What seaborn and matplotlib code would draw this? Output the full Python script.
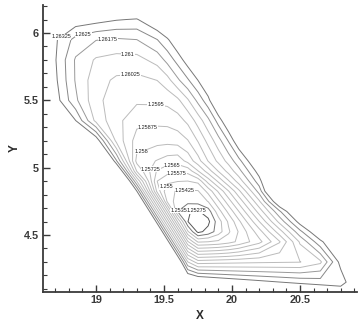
import numpy as np
import matplotlib
matplotlib.use("Agg")
import matplotlib.pyplot as plt
import seaborn as sns

# ---- data ----
# grid nodes (X, Y)
x_nodes = [18.55, 18.70, 18.85, 19.00, 19.15, 19.30, 19.45, 19.525, 19.60, 19.675, 19.75,
           19.825, 19.90, 19.975, 20.05, 20.20, 20.35, 20.50, 20.65, 20.80, 20.95]
y_nodes = [4.00, 4.15, 4.30, 4.45, 4.525, 4.60, 4.675, 4.75, 4.825, 4.90, 4.975,
           5.05, 5.20, 5.35, 5.50, 5.65, 5.80, 5.95, 6.10, 6.25]
# field value at each node, one row per y node
field = [
[1.28650,1.28650,1.28650,1.28650,1.28650,1.28650,1.27802,1.27367,1.27085,1.26970,1.26924,1.26880,1.26840,1.26804,1.26771,1.26711,1.26661,1.26617,1.26579,1.26545,1.26483],
[1.28650,1.28650,1.28650,1.28650,1.28650,1.28314,1.27609,1.27255,1.26891,1.26492,1.26457,1.26435,1.26415,1.26397,1.26381,1.26352,1.26327,1.26305,1.26287,1.26270,1.26476],
[1.28650,1.28650,1.28650,1.28650,1.28567,1.27867,1.27164,1.26811,1.26457,1.26102,1.25987,1.25993,1.25998,1.26002,1.26006,1.26013,1.26018,1.26022,1.26084,1.26356,1.26785],
[1.28650,1.28650,1.28650,1.28650,1.28122,1.27423,1.26722,1.26369,1.26016,1.25660,1.25491,1.25500,1.25515,1.25545,1.25591,1.25701,1.25868,1.26110,1.26304,1.26461,1.26749],
[1.28650,1.28650,1.28650,1.28595,1.27901,1.27203,1.26502,1.26150,1.25796,1.25437,1.25254,1.25300,1.25389,1.25488,1.25581,1.25768,1.25990,1.26228,1.26424,1.26556,1.26740],
[1.28650,1.28650,1.28650,1.28374,1.27680,1.26983,1.26283,1.25931,1.25571,1.25282,1.24983,1.25256,1.25390,1.25512,1.25632,1.25873,1.26123,1.26361,1.26563,1.26685,1.26771],
[1.28650,1.28650,1.28650,1.28220,1.27461,1.26764,1.26065,1.25713,1.25350,1.25278,1.25267,1.25313,1.25466,1.25595,1.25723,1.25980,1.26237,1.26484,1.26725,1.26827,1.26891],
[1.28650,1.28650,1.28465,1.27933,1.27242,1.26546,1.25848,1.25484,1.25383,1.25372,1.25378,1.25428,1.25560,1.25692,1.25824,1.26088,1.26428,1.26639,1.26875,1.26990,1.27039],
[1.28650,1.28625,1.28159,1.27628,1.27033,1.26329,1.25627,1.25443,1.25419,1.25417,1.25418,1.25524,1.25660,1.25795,1.25931,1.26203,1.26632,1.26886,1.26972,1.27179,1.27199],
[1.27722,1.28333,1.27868,1.27345,1.26756,1.26099,1.25575,1.25520,1.25503,1.25499,1.25520,1.25682,1.25815,1.25942,1.26057,1.26293,1.26609,1.27291,1.27165,1.27402,1.27382],
[1.27352,1.28061,1.27598,1.27080,1.26499,1.25869,1.25641,1.25603,1.25596,1.25601,1.25721,1.25838,1.25954,1.26052,1.26149,1.26363,1.26624,1.27188,1.27538,1.27478,1.27594],
[1.27192,1.27328,1.27346,1.26833,1.26259,1.25775,1.25720,1.25690,1.25679,1.25749,1.25845,1.25953,1.26044,1.26127,1.26224,1.26443,1.26661,1.26990,1.28106,1.27689,1.27841],
[1.26978,1.26757,1.26777,1.26387,1.26004,1.25842,1.25825,1.25824,1.25834,1.25871,1.25955,1.26049,1.26144,1.26256,1.26395,1.26632,1.26832,1.27018,1.27315,1.28291,1.28212],
[1.26669,1.26534,1.26326,1.26076,1.25973,1.25899,1.25894,1.25897,1.25917,1.25969,1.26057,1.26156,1.26282,1.26411,1.26535,1.26853,1.27082,1.27246,1.27406,1.27612,1.28404],
[1.26539,1.26365,1.26190,1.26046,1.25985,1.25963,1.25966,1.25973,1.26007,1.26090,1.26196,1.26301,1.26452,1.26600,1.26730,1.26958,1.27226,1.27570,1.27695,1.27811,1.27953],
[1.26526,1.26342,1.26168,1.26055,1.26012,1.26005,1.26026,1.26073,1.26160,1.26240,1.26326,1.26420,1.26537,1.26680,1.26859,1.27251,1.27449,1.27612,1.27998,1.28181,1.28247],
[1.26510,1.26331,1.26166,1.26090,1.26071,1.26072,1.26128,1.26199,1.26279,1.26367,1.26455,1.26543,1.26631,1.26719,1.26825,1.27174,1.27694,1.28017,1.28141,1.28272,1.28650],
[1.26480,1.26337,1.26224,1.26178,1.26164,1.26174,1.26248,1.26313,1.26398,1.26485,1.26576,1.26670,1.26760,1.26848,1.26936,1.27112,1.27425,1.27966,1.28542,1.28650,1.28650],
[1.26556,1.26447,1.26379,1.26358,1.26331,1.26318,1.26415,1.26471,1.26523,1.26589,1.26680,1.26771,1.26865,1.26963,1.27064,1.27241,1.27416,1.27649,1.28154,1.28650,1.28650],
[1.26678,1.26584,1.26556,1.26575,1.26550,1.26528,1.26595,1.26656,1.26703,1.26747,1.26794,1.26866,1.26954,1.27049,1.27147,1.27353,1.27545,1.27721,1.27911,1.28308,1.28650],
]
# contour levels
levels = [1.25275, 1.2535, 1.25425, 1.255, 1.25575, 1.2565, 1.25725, 1.258, 1.25875,
          1.2595, 1.26025, 1.261, 1.26175, 1.2625, 1.26325]
# axis ticks
x_ticks = [19, 19.5, 20, 20.5]
x_tick_labels = ['19', '19.5', '20', '20.5']
y_ticks = [4.5, 5, 5.5, 6]
y_tick_labels = ['4.5', '5', '5.5', '6']

# ---- drawing ----
sns.set_style("ticks")
plt.rcParams['font.family'] = ['Liberation Sans', 'DejaVu Sans']

fig = plt.figure(figsize=(3.6, 3.23), dpi=100)
ax = fig.add_axes([43/360, 1-292/323, 314/360, 287/323])

line_colors = ['#555555', '#777777'] + ['#bbbbbb']*10 + ['#999999', '#888888', '#777777']
cs = ax.contour(x_nodes, y_nodes, np.array(field), levels=levels,
                colors=line_colors, linewidths=0.7)

# contour labels: placed on the nearest point of each level's line
label_near = [(19.743, 4.663), (19.588, 4.708), (19.654, 4.834), (19.485, 4.871), (19.596, 4.953),
              (19.559, 5.027), (19.375, 5.005), (19.331, 5.124), (19.382, 5.302), (19.441, 5.458),
              (19.25, 5.725), (19.235, 5.851), (19.088, 5.955), (18.904, 5.992), (18.75, 5.963)]
fmt = lambda v: f"{v:.5f}".rstrip('0')
for i, pos in enumerate(label_near):
    pos = np.array(pos)
    best = None
    for poly in cs.get_paths()[i].to_polygons(closed_only=False):
        if len(poly) < 2:
            continue
        A = poly[:-1]; B = poly[1:]; AB = B - A
        t = np.clip(((pos - A)*AB).sum(1)/np.maximum((AB*AB).sum(1), 1e-12), 0, 1)
        Pp = A + t[:, None]*AB
        d = ((Pp - pos)**2).sum(1)
        j = d.argmin()
        if best is None or d[j] < best[0]:
            best = (d[j], Pp[j])
    ax.text(best[1][0], best[1][1], fmt(levels[i]), ha='center', va='center', fontsize=4,
            color='#222222', bbox=dict(facecolor='white', edgecolor='none', pad=0.2), zorder=5)

ax.set_xlim(18.61, 20.92)
ax.set_ylim(4.077, 6.208)
for s in ['top', 'right']:
    ax.spines[s].set_visible(False)
for s in ['left', 'bottom']:
    ax.spines[s].set_color('#3a3a3a')
    ax.spines[s].set_linewidth(1.3)
ax.set_xticks(x_ticks)
ax.set_xticklabels(x_tick_labels, fontweight='bold')
ax.set_yticks(y_ticks)
ax.set_yticklabels(y_tick_labels, fontweight='bold')
ax.set_xticks(np.arange(18.7, 20.95, 0.1), minor=True)
ax.set_yticks(np.arange(4.1, 6.25, 0.1), minor=True)
ax.tick_params(which='major', direction='in', length=5, width=1.0, colors='#3a3a3a',
               labelsize=7.8, pad=3)
ax.tick_params(which='minor', direction='in', length=3, width=0.8, colors='#3a3a3a')
ax.tick_params(axis='x', pad=2)
ax.set_xlabel('X', fontweight='bold', fontsize=8.5, color='#2a2a2a', labelpad=4)
ax.set_ylabel('Y', fontweight='bold', fontsize=8.5, color='#2a2a2a', labelpad=2)

fig.savefig("out.png", dpi=100)
